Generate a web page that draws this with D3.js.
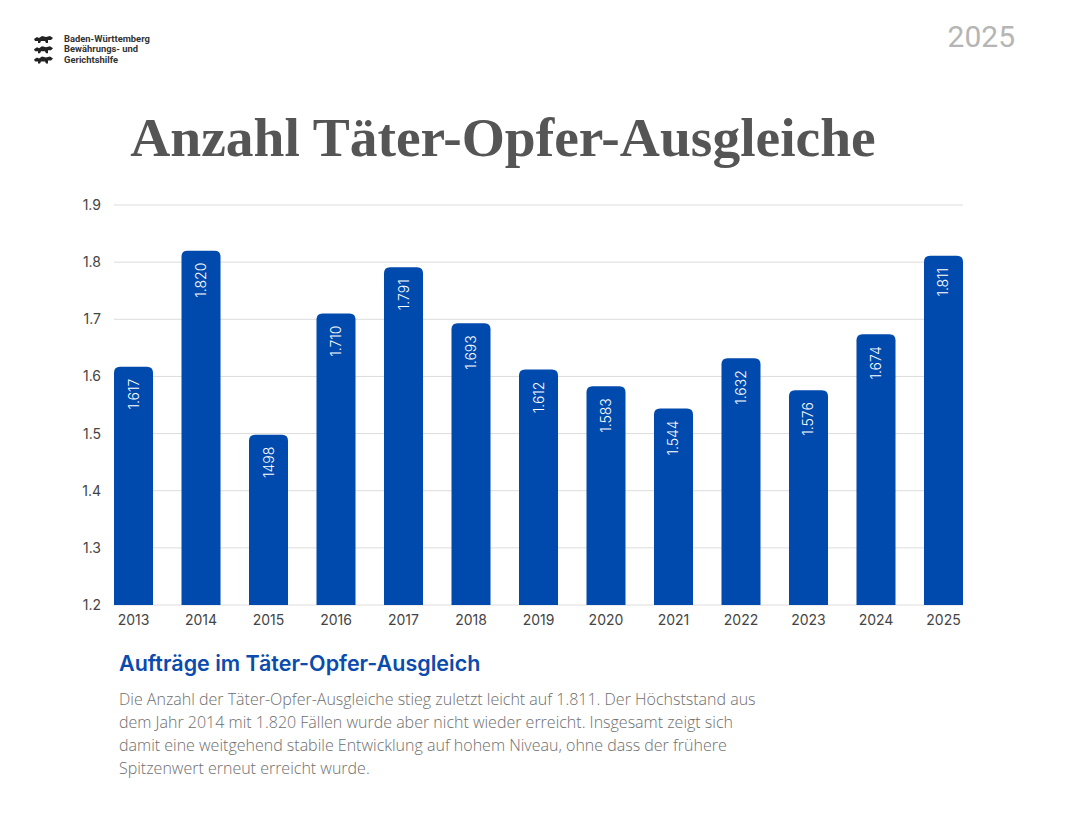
<!DOCTYPE html>
<html>
<head>
<meta charset="utf-8">
<script src="https://cdn.jsdelivr.net/npm/d3@7"></script>
<style>
  html, body { margin: 0; padding: 0; background: #fff; }
  svg { display: block; }
</style>
</head>
<body>
<svg id="chart" width="1065" height="825"></svg>
<script>
const years = ["2013","2014","2015","2016","2017","2018","2019","2020","2021","2022","2023","2024","2025"];
const values = [1.617, 1.820, 1.498, 1.710, 1.791, 1.693, 1.612, 1.583, 1.544, 1.632, 1.576, 1.674, 1.811];
const valueLabels = ["1.617","1.820","1498","1.710","1.791","1.693","1.612","1.583","1.544","1.632","1.576","1.674","1.811"];
const yTicks = [1.2, 1.3, 1.4, 1.5, 1.6, 1.7, 1.8, 1.9];
const yTickLabels = ["1.2","1.3","1.4","1.5","1.6","1.7","1.8","1.9"];
const logoLines = ["Baden-Württemberg", "Bewährungs- und", "Gerichtshilfe"];
const bodyLines = [
  "Die Anzahl der Täter-Opfer-Ausgleiche stieg zuletzt leicht auf 1.811. Der Höchststand aus",
  "dem Jahr 2014 mit 1.820 Fällen wurde aber nicht wieder erreicht. Insgesamt zeigt sich",
  "damit eine weitgehend stabile Entwicklung auf hohem Niveau, ohne dass der frühere",
  "Spitzenwert erneut erreicht wurde."
];

const svg = d3.select("#chart");

// Logo
const logo = svg.append("g");
logoLines.forEach((t, i) => {
  const g = logo.append("g").attr("transform", `translate(34,${35 + i * 10.3})`);
  g.append("path")
    .attr("d", "M0,4 L3,2 L5,3 L8,1 L12,2 L16,1 L19,3 L17,5 L14,5 L14,8 L12,8 L11,6 L7,6 L6,8 L4,8 L4,6 L1,6 Z")
    .attr("fill", "#222");
  logo.append("text")
    .attr("x", 64).attr("y", 42 + i * 10.3)
    .attr("font-family", "Roboto, 'Liberation Sans', sans-serif")
    .attr("font-weight", 700)
    .attr("font-size", 9.4)
    .attr("fill", "#333")
    .text(t);
});

// top-right year
svg.append("text")
  .attr("x", 1015).attr("y", 47)
  .attr("text-anchor", "end")
  .attr("font-family", "Roboto, Inter, sans-serif")
  .attr("font-size", 30)
  .attr("fill", "#b5b5b5")
  .text("2025");

// Title
svg.append("text")
  .attr("x", 503).attr("y", 156)
  .attr("text-anchor", "middle")
  .attr("font-family", "'Liberation Serif', 'DejaVu Serif', serif")
  .attr("font-weight", 700)
  .attr("font-size", 55.5)
  .attr("fill", "#555")
  .text("Anzahl Täter-Opfer-Ausgleiche");

// Scales
const x = d3.scaleBand().domain(years).range([114, 963]).paddingInner(0.422).paddingOuter(0);
const y = d3.scaleLinear().domain([1.2, 1.9]).range([605, 205]);

// Gridlines
svg.append("g").selectAll("line").data(yTicks).join("line")
  .attr("x1", 114).attr("x2", 963)
  .attr("y1", d => y(d)).attr("y2", d => y(d))
  .attr("stroke", "#dcdcdc").attr("stroke-width", 1);

// Y axis
const yAxis = d3.axisLeft(y).tickValues(yTicks).tickFormat((d, i) => yTickLabels[i]).tickSize(0).tickPadding(13);
const yg = svg.append("g").attr("transform", "translate(114,0)").call(yAxis);
yg.select(".domain").remove();
yg.selectAll("text").attr("font-family", "Inter, Roboto, sans-serif").attr("font-size", 14).attr("fill", "#444");

// Bars with rounded tops
const r = 6;
function barPath(d, i) {
  const x0 = x(years[i]), w = x.bandwidth();
  const y0 = y(d), y1 = y(1.2);
  return `M${x0},${y1} L${x0},${y0 + r} Q${x0},${y0} ${x0 + r},${y0} L${x0 + w - r},${y0} Q${x0 + w},${y0} ${x0 + w},${y0 + r} L${x0 + w},${y1} Z`;
}
svg.append("g").selectAll("path").data(values).join("path")
  .attr("d", (d, i) => barPath(d, i))
  .attr("fill", "#004aad");

// Value labels
svg.append("g").selectAll("text").data(values).join("text")
  .attr("transform", (d, i) => `translate(${x(years[i]) + x.bandwidth() / 2 + 5},${y(d) + 12}) rotate(-90)`)
  .attr("text-anchor", "end")
  .attr("font-family", "Inter, Roboto, sans-serif")
  .attr("font-weight", 300)
  .attr("font-size", 14)
  .attr("fill", "#fff")
  .text((d, i) => valueLabels[i]);

// X axis
const xAxis = d3.axisBottom(x).tickSize(0).tickPadding(10);
const xg = svg.append("g").attr("transform", "translate(0,605)").call(xAxis);
xg.select(".domain").remove();
xg.selectAll("text").attr("font-family", "Inter, Roboto, sans-serif").attr("font-size", 14).attr("fill", "#444");

// Subtitle
svg.append("text")
  .attr("x", 119).attr("y", 671)
  .attr("font-family", "Inter, Roboto, sans-serif")
  .attr("font-weight", 600)
  .attr("font-size", 21.5)
  .attr("fill", "#0a4bad")
  .text("Aufträge im Täter-Opfer-Ausgleich");

// Body text
svg.append("g").selectAll("text").data(bodyLines).join("text")
  .attr("x", 119).attr("y", (d, i) => 705 + i * 23)
  .attr("font-family", "'Open Sans', sans-serif")
  .attr("font-weight", 300)
  .attr("font-size", 16)
  .attr("fill", "#6e6e6e")
  .text(d => d);
</script>
</body>
</html>
